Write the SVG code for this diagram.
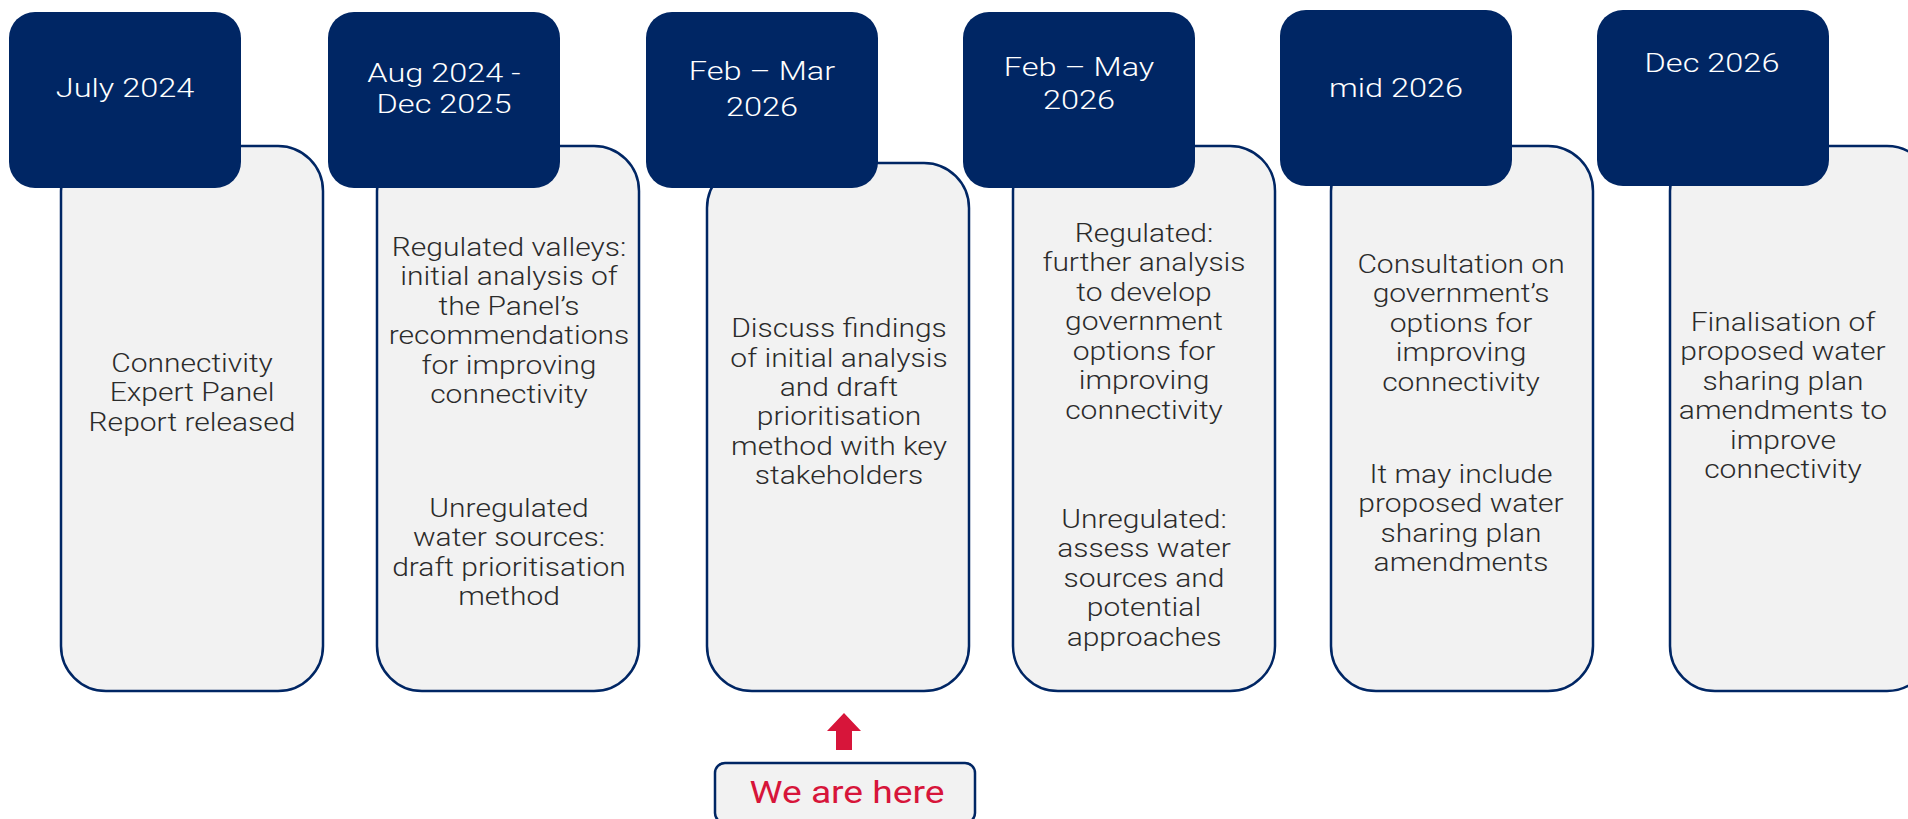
<svg xmlns="http://www.w3.org/2000/svg" width="1908" height="819" viewBox="0 0 1908 819">
<style>
.bg{fill:#ffffff}
.card{fill:#f2f2f2;stroke:#002664;stroke-width:2.5}
.head{fill:#002664}
.ht{font-family:Roboto,"Liberation Sans",sans-serif;font-weight:300;font-size:26px;fill:#ffffff;text-anchor:middle}
.bt{font-family:Roboto,"Liberation Sans",sans-serif;font-weight:300;font-size:25px;fill:#2b2b2b;text-anchor:middle}
.here{fill:#f2f2f2;stroke:#002664;stroke-width:2.5}
.ht2{font-family:Roboto,"Liberation Sans",sans-serif;font-weight:400;font-size:31px;fill:#d7153a;text-anchor:middle}
</style>
<rect class="bg" x="0" y="0" width="1908" height="819"/>

<g id="step1">
<rect class="card" x="61" y="146" width="262" height="545" rx="45"/>
<rect class="head" x="9" y="12" width="232" height="176" rx="26"/>
<text class="ht" transform="translate(125 0) scale(1.25 1)" x="0" y="97">July 2024</text>
<text class="bt" transform="translate(192 0) scale(1.2 1)"><tspan x="0" y="372">Connectivity</tspan><tspan x="0" y="401.5">Expert Panel</tspan><tspan x="0" y="431">Report released</tspan></text>
</g>

<g id="step2">
<rect class="card" x="377" y="146" width="262" height="545" rx="45"/>
<rect class="head" x="328" y="12" width="232" height="176" rx="26"/>
<text class="ht" transform="translate(444 0) scale(1.25 1)"><tspan x="0" y="82">Aug 2024 -</tspan><tspan x="0" y="113">Dec 2025</tspan></text>
<text class="bt" transform="translate(509 0) scale(1.2 1)"><tspan x="0" y="256">Regulated valleys:</tspan><tspan x="0" y="285.5">initial analysis of</tspan><tspan x="0" y="315">the Panel’s</tspan><tspan x="0" y="344.5">recommendations</tspan><tspan x="0" y="374">for improving</tspan><tspan x="0" y="403.5">connectivity</tspan><tspan x="0" y="517">Unregulated</tspan><tspan x="0" y="546.5">water sources:</tspan><tspan x="0" y="576">draft prioritisation</tspan><tspan x="0" y="605.5">method</tspan></text>
</g>

<g id="step3">
<rect class="card" x="707" y="163" width="262" height="528" rx="45"/>
<rect class="head" x="646" y="12" width="232" height="176" rx="26"/>
<text class="ht" transform="translate(762 0) scale(1.25 1)"><tspan x="0" y="80">Feb – Mar</tspan><tspan x="0" y="116">2026</tspan></text>
<text class="bt" transform="translate(839 0) scale(1.2 1)"><tspan x="0" y="337">Discuss findings</tspan><tspan x="0" y="366.5">of initial analysis</tspan><tspan x="0" y="396">and draft</tspan><tspan x="0" y="425.5">prioritisation</tspan><tspan x="0" y="455">method with key</tspan><tspan x="0" y="484.5">stakeholders</tspan></text>
</g>

<g id="step4">
<rect class="card" x="1013" y="146" width="262" height="545" rx="45"/>
<rect class="head" x="963" y="12" width="232" height="176" rx="26"/>
<text class="ht" transform="translate(1079 0) scale(1.25 1)"><tspan x="0" y="76">Feb – May</tspan><tspan x="0" y="109">2026</tspan></text>
<text class="bt" transform="translate(1144 0) scale(1.2 1)"><tspan x="0" y="242">Regulated:</tspan><tspan x="0" y="271.5">further analysis</tspan><tspan x="0" y="301">to develop</tspan><tspan x="0" y="330.5">government</tspan><tspan x="0" y="360">options for</tspan><tspan x="0" y="389.5">improving</tspan><tspan x="0" y="419">connectivity</tspan><tspan x="0" y="528">Unregulated:</tspan><tspan x="0" y="557.5">assess water</tspan><tspan x="0" y="587">sources and</tspan><tspan x="0" y="616.5">potential</tspan><tspan x="0" y="646">approaches</tspan></text>
</g>

<g id="step5">
<rect class="card" x="1331" y="146" width="262" height="545" rx="45"/>
<rect class="head" x="1280" y="10" width="232" height="176" rx="26"/>
<text class="ht" transform="translate(1396 0) scale(1.25 1)" x="0" y="97">mid 2026</text>
<text class="bt" transform="translate(1461 0) scale(1.2 1)"><tspan x="0" y="273">Consultation on</tspan><tspan x="0" y="302.5">government’s</tspan><tspan x="0" y="332">options for</tspan><tspan x="0" y="361.5">improving</tspan><tspan x="0" y="391">connectivity</tspan><tspan x="0" y="483">It may include</tspan><tspan x="0" y="512.5">proposed water</tspan><tspan x="0" y="542">sharing plan</tspan><tspan x="0" y="571.5">amendments</tspan></text>
</g>

<g id="step6">
<rect class="card" x="1670" y="146" width="262" height="545" rx="45"/>
<rect class="head" x="1597" y="10" width="232" height="176" rx="26"/>
<text class="ht" transform="translate(1712 0) scale(1.25 1)" x="0" y="72">Dec 2026</text>
<text class="bt" transform="translate(1783 0) scale(1.2 1)"><tspan x="0" y="331">Finalisation of</tspan><tspan x="0" y="360.5">proposed water</tspan><tspan x="0" y="390">sharing plan</tspan><tspan x="0" y="419.5">amendments to</tspan><tspan x="0" y="449">improve</tspan><tspan x="0" y="478.5">connectivity</tspan></text>
</g>

<g id="connectors">
<path d="M844 713 L861 731 L852 731 L852 750 L836 750 L836 731 L827 731 Z" fill="#d7153a"/>
</g>

<g id="here">
<rect class="here" x="715" y="763" width="260" height="60" rx="10"/>
<text class="ht2" transform="translate(847 0) scale(1.2 1)" x="0" y="803">We are here</text>
</g>
</svg>
